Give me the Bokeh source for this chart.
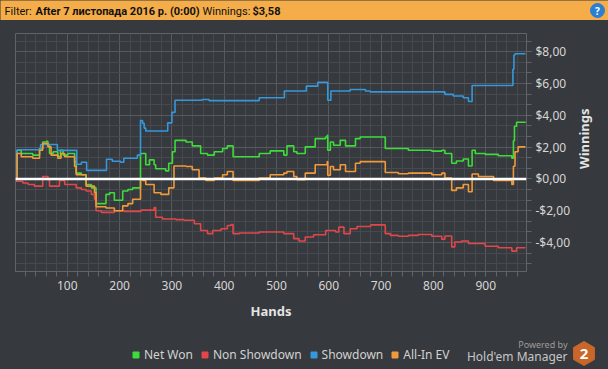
from bokeh.plotting import figure
from bokeh.layouts import column, row
from bokeh.models import (Range1d, SingleIntervalTicker, CustomJSTickFormatter, Span,
                          Label, Legend, LegendItem)
from bokeh.embed import file_html
from bokeh.resources import INLINE
from math import pi

# ---------------- data (hand, cumulative winnings $) ----------------
net_won_hands = [1, 4, 12, 34, 47, 53, 60, 63, 66, 73, 82, 87, 92, 101, 114, 117, 127, 136, 146, 155,
                 174, 181, 190, 206, 216, 225, 240, 250, 257, 266, 269, 288, 294, 301, 306, 327, 339,
                 355, 368, 381, 397, 406, 417, 467, 488, 514, 520, 533, 539, 555, 574, 594, 597, 598,
                 603, 609, 622, 632, 651, 660, 708, 752, 797, 816, 822, 835, 844, 857, 867, 874, 880,
                 899, 924, 950, 953, 955, 959, 976]
net_won = [0.0, 1.81, 1.6, 1.5, 1.92, 2.33, 2.37, 2.16, 1.6, 1.71, 1.4, 1.81, 1.5, 1.6, 1.09, 0.37,
           0.27, -0.35, -0.56, -1.55, -0.97, -0.87, -1.34, -0.76, -0.66, -0.56, 1.6, 0.89, 1.2, 0.89,
           0.64, 0.51, 0.99, 1.71, 2.43, 2.33, 2.08, 1.6, 1.5, 1.71, 1.92, 2.08, 1.4, 1.6, 1.77, 1.5,
           2.08, 1.71, 1.6, 2.02, 2.54, 2.64, 2.74, 1.81, 2.33, 2.12, 2.43, 2.08, 2.54, 2.64, 1.92,
           1.81, 1.75, 1.81, 1.6, 0.99, 1.13, 1.26, 0.82, 1.81, 1.6, 1.55, 1.46, 1.3, 2.4, 3.32, 3.57,
           3.58]

non_showdown_hands = [1, 2, 15, 25, 37, 53, 63, 66, 85, 95, 117, 127, 136, 146, 152, 155, 165, 190,
                      209, 241, 266, 269, 282, 308, 323, 343, 355, 368, 378, 394, 406, 413, 417, 429,
                      467, 514, 533, 543, 555, 571, 594, 613, 619, 629, 641, 654, 680, 708, 718, 733,
                      752, 771, 797, 816, 822, 835, 841, 854, 867, 899, 924, 950, 959, 976]
non_showdown = [0.0, -0.14, -0.25, -0.35, -0.45, 0.16, -0.04, -0.45, -0.1, -0.35, -0.56, -0.66,
                -0.76, -0.97, -1.28, -2.0, -2.1, -2.0, -2.04, -1.96, -1.8, -2.41, -2.52, -2.56,
                -2.6, -2.82, -3.24, -3.44, -3.24, -3.13, -2.93, -2.87, -3.44, -3.4, -3.34, -3.44,
                -3.75, -3.9, -3.65, -3.51, -3.24, -3.34, -3.03, -3.44, -3.13, -2.99, -2.89, -3.44,
                -3.55, -3.6, -3.55, -3.49, -3.6, -3.79, -3.59, -4.27, -3.96, -3.9, -4.06, -4.23,
                -4.33, -4.54, -4.33, -4.33]

showdown_hands = [1, 4, 49, 81, 118, 127, 137, 175, 186, 202, 208, 234, 240, 244, 247, 250, 292,
                  300, 306, 358, 371, 467, 515, 557, 579, 598, 604, 641, 670, 679, 822, 838, 857,
                  867, 874, 952, 954, 956, 976]
showdown = [0.0, 1.84, 2.17, 1.8, 0.93, 1.05, 0.54, 1.24, 1.11, 1.05, 1.3, 1.5, 3.67, 3.5, 3.2,
            3.02, 3.53, 4.19, 4.95, 5.0, 4.93, 5.11, 5.53, 5.84, 6.08, 4.95, 5.53, 5.63, 5.53, 5.48,
            5.32, 5.22, 5.11, 4.87, 5.88, 6.9, 7.8, 7.88, 7.88]

allin_ev_hands = [1, 4, 12, 34, 47, 53, 63, 69, 82, 88, 95, 114, 117, 136, 152, 155, 174, 190, 206,
                  216, 225, 240, 244, 250, 266, 279, 294, 304, 327, 339, 352, 365, 381, 397, 406,
                  417, 467, 488, 514, 520, 533, 539, 555, 574, 597, 598, 603, 609, 622, 632, 651,
                  660, 708, 733, 752, 797, 816, 822, 835, 844, 857, 867, 874, 886, 915, 950, 953,
                  956, 962, 976]
allin_ev = [0.0, 1.6, 1.4, 1.3, 1.81, 2.23, 2.02, 1.5, 1.3, 1.6, 1.4, 0.78, 0.27, -0.45, -0.87,
            -1.75, -1.83, -2.0, -1.69, -1.55, -1.28, 0.0, -0.1, -0.35, -0.87, -0.97, -0.56, 0.82,
            0.78, 0.58, 0.06, -0.1, 0.06, 0.27, 0.47, -0.1, 0.06, 0.27, 0.37, 0.47, 0.16, -0.04,
            0.37, 0.89, 1.09, 0.23, 0.78, 0.58, 0.89, 0.47, 0.99, 1.09, 0.41, 0.33, 0.37, 0.27,
            0.37, 0.06, -0.72, -0.56, -0.35, -0.8, 0.31, 0.16, -0.1, -0.35, 0.8, 1.71, 2.02, 2.02]

series_names = ["Net Won", "Non Showdown", "Showdown", "All-In EV"]
series_colors = ["#3ddc3a", "#e0474b", "#3598dc", "#f29a3a"]

header_filter = "After 7 листопада 2016 р. (0:00)"
header_winnings = "$3,58"

# ---------------- style ----------------
BG = "#36393d"
GRID = "#56595d"
MINOR = "#46494d"
TXT = "#d6d6d6"
FONT = "Noto Sans"
W, H = 608, 369


def blank(width, height, fill):
    return figure(width=width, height=height, output_backend="svg", toolbar_location=None,
                  x_range=Range1d(0, width), y_range=Range1d(0, height),
                  x_axis_type=None, y_axis_type=None, title=None,
                  min_border=0, min_border_left=0, min_border_right=0,
                  min_border_top=0, min_border_bottom=0,
                  background_fill_color=fill, border_fill_color=fill, outline_line_color=None)


# ---------------- header bar ----------------
HH = 20
hdr_fig = blank(W, HH, "#f4ad48")
hdr = dict(y=9.5, text_baseline="middle", text_align="left", text_font="Roboto",
           text_font_size="11px", text_color="#111111")
hdr_fig.add_layout(Label(x=4, text="Filter:", **hdr))
hdr_fig.add_layout(Label(x=35, text=header_filter, text_font_style="bold", **hdr))
hdr_fig.add_layout(Label(x=202, text="Winnings:", **hdr))
hdr_fig.add_layout(Label(x=252, text=header_winnings, text_font_style="bold", **hdr))
hdr_fig.scatter([597], [10], marker="circle", size=14, color="#2b7fd2")
hdr_fig.add_layout(Label(x=597, y=10, text="?", text_align="center", text_baseline="middle",
                         text_font=FONT, text_font_style="bold", text_font_size="10px",
                         text_color="white"))

# ---------------- main chart ----------------
MW, MH = 574, 302
p = figure(width=MW, height=MH, output_backend="svg", toolbar_location=None,
           x_range=Range1d(1, 978), y_range=Range1d(-5.82, 9.15),
           y_axis_location="right", title=None,
           min_border_left=15, min_border_right=48, min_border_top=13, min_border_bottom=47,
           background_fill_color=BG, border_fill_color=BG, outline_line_color="#606367")

p.xaxis.ticker = SingleIntervalTicker(interval=100, num_minor_ticks=5)
p.yaxis.ticker = SingleIntervalTicker(interval=2, num_minor_ticks=3)
p.yaxis.formatter = CustomJSTickFormatter(code="""
    const v = Math.abs(tick).toFixed(2).replace('.', ',');
    return (tick < -1e-9 ? '-' : '') + '$' + v;
""")

for ax in (p.xaxis[0], p.yaxis[0]):
    ax.axis_line_color = "#606367"
    ax.major_tick_line_color = "#606367"
    ax.minor_tick_line_color = "#606367"
    ax.major_tick_out = 5
    ax.major_tick_in = 0
    ax.minor_tick_out = 5
    ax.minor_tick_in = 0
    ax.major_label_text_color = TXT
    ax.major_label_text_font = FONT
    ax.major_label_text_font_size = "12px"
    ax.major_label_standoff = 4

p.xaxis.axis_label = "Hands"
p.xaxis.axis_label_text_font = FONT
p.xaxis.axis_label_text_font_style = "bold"
p.xaxis.axis_label_text_font_size = "13px"
p.xaxis.axis_label_text_color = "#e4e4e4"
p.xaxis.axis_label_standoff = 9

p.xgrid.grid_line_color = GRID
p.ygrid.grid_line_color = GRID
p.xgrid.minor_grid_line_color = MINOR
p.ygrid.minor_grid_line_color = MINOR

all_hands = [net_won_hands, non_showdown_hands, showdown_hands, allin_ev_hands]
all_vals = [net_won, non_showdown, showdown, allin_ev]
for hx, vy, c in zip(all_hands, all_vals, series_colors):
    p.step(hx, vy, mode="after", line_color=c, line_width=1.6)

p.add_layout(Span(location=0, dimension="width", line_color="white", line_width=2.5))

# ---------------- right strip with y-axis title ----------------
SW = W - MW
strip = blank(SW, MH, BG)
strip.add_layout(Label(x=9, y=MH - (153.5 - HH), text="Winnings", angle=pi / 2,
                       text_align="center", text_baseline="middle", text_font=FONT,
                       text_font_style="bold", text_font_size="13px", text_color="#e4e4e4"))

# ---------------- footer: legend + logo ----------------
FH = H - HH - MH
foot = blank(W, FH, BG)
nan = float("nan")
items = []
for name, c in zip(series_names, series_colors):
    r = foot.scatter([nan], [nan], marker="square", color=c)
    items.append(LegendItem(label=name, renderers=[r]))
legend = Legend(items=items, orientation="horizontal", location=(128, 6),
                glyph_width=15, glyph_height=15, label_height=15, label_standoff=1, spacing=4,
                padding=0, margin=0, border_line_alpha=0, background_fill_alpha=0,
                label_text_color="#d2d2d2", label_text_font=FONT, label_text_font_size="12px")
foot.add_layout(legend)
foot.add_layout(Label(x=567, y=25, text="Powered by", text_align="right",
                      text_baseline="middle", text_font=FONT, text_font_size="9px",
                      text_color="#9c9c9c"))
foot.add_layout(Label(x=567, y=13, text="Hold'em Manager", text_align="right",
                      text_baseline="middle", text_font=FONT, text_font_size="12px",
                      text_color="#c6c6c6"))
foot.scatter([583.5], [16], marker="hex", size=24, angle=pi / 2, color="#c9662a")
foot.add_layout(Label(x=583.5, y=16, text="2", text_align="center", text_baseline="middle",
                      text_font=FONT, text_font_style="bold", text_font_size="15px",
                      text_color="white"))

mid = row(p, strip, spacing=0, styles={"background-color": BG})
layout = column(hdr_fig, mid, foot, spacing=0, styles={"background-color": BG})

open("out.html", "w").write(file_html(layout, INLINE))
